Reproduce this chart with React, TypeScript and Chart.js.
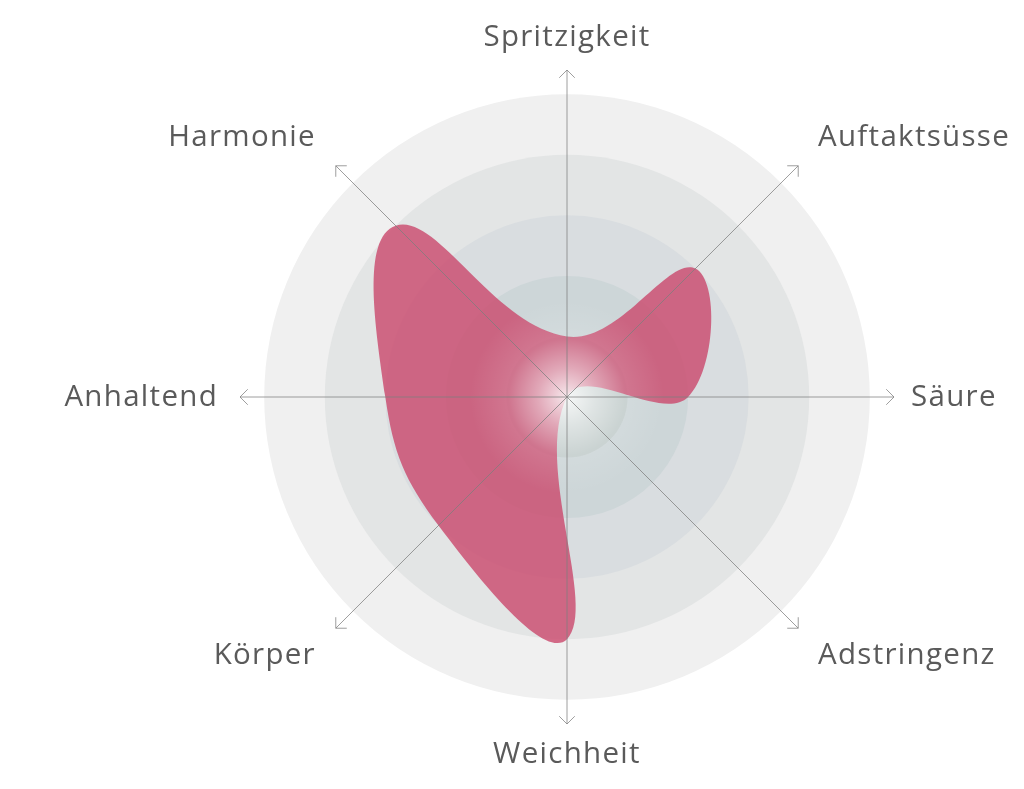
import React, { useEffect, useRef } from 'react';
import { Chart, registerables } from 'chart.js';

Chart.register(...registerables);

// Achsen im Uhrzeigersinn, oben beginnend
const kategorien = ['Spritzigkeit', 'Auftaktsüsse', 'Säure', 'Adstringenz', 'Weichheit', 'Körper', 'Anhaltend', 'Harmonie'];
const werte = [1, 3, 2, 0, 4, 3, 3, 4];
const ringStufen = [5, 4, 3, 2, 1];
const skalaMax = 5.4;

const ringFarben = ['#f0f0f0', '#e3e5e5', '#d9dde0', '#cdd6d8', '#c3cdcc'];
const textFarbe = '#5a5a5a';

const hintergrundPlugin = {
  id: 'weinHintergrund',
  beforeDatasetsDraw(chart: any) {
    const s = chart.scales.r;
    const ctx = chart.ctx;
    ctx.save();
    ringStufen.forEach((v, i) => {
      ctx.beginPath();
      ctx.arc(s.xCenter, s.yCenter, s.getDistanceFromCenterForValue(v), 0, Math.PI * 2);
      ctx.fillStyle = ringFarben[i];
      ctx.fill();
    });
    ctx.restore();
  },
  afterDatasetsDraw(chart: any) {
    const s = chart.scales.r;
    const ctx = chart.ctx;
    const xc = s.xCenter;
    const yc = s.yCenter;
    const R = s.drawingArea;
    ctx.save();

    // weisser Schein in der Mitte
    const glowR = s.getDistanceFromCenterForValue(1.6);
    const g = ctx.createRadialGradient(xc, yc, 0, xc, yc, glowR);
    g.addColorStop(0, 'rgba(255,255,255,0.85)');
    g.addColorStop(0.3, 'rgba(255,255,255,0.45)');
    g.addColorStop(0.6, 'rgba(255,255,255,0.12)');
    g.addColorStop(1, 'rgba(255,255,255,0)');
    ctx.fillStyle = g;
    ctx.beginPath();
    ctx.arc(xc, yc, glowR, 0, Math.PI * 2);
    ctx.fill();

    // Achsen mit Pfeilspitzen
    ctx.strokeStyle = 'rgba(125,125,125,0.75)';
    ctx.lineWidth = 1;
    kategorien.forEach((_, i) => {
      const p = s.getPointPosition(i, R);
      const a = Math.atan2(p.y - yc, p.x - xc);
      ctx.beginPath();
      ctx.moveTo(xc, yc);
      ctx.lineTo(p.x, p.y);
      ctx.moveTo(p.x + 11 * Math.cos(a + Math.PI * 0.75), p.y + 11 * Math.sin(a + Math.PI * 0.75));
      ctx.lineTo(p.x, p.y);
      ctx.lineTo(p.x + 11 * Math.cos(a - Math.PI * 0.75), p.y + 11 * Math.sin(a - Math.PI * 0.75));
      ctx.stroke();
    });

    // Beschriftungen
    ctx.font = '29.5px "Open Sans"';
    (ctx as any).letterSpacing = '1.3px';
    ctx.fillStyle = textFarbe;
    ctx.textBaseline = 'alphabetic';
    const capH = ctx.measureText('H').actualBoundingBoxAscent;
    kategorien.forEach((label, i) => {
      const grad = (i * 360) / kategorien.length;
      let p;
      let y;
      if (grad === 0) {
        p = s.getPointPosition(i, R + 24);
        ctx.textAlign = 'center';
        y = p.y;
      } else if (grad === 180) {
        p = s.getPointPosition(i, R + 18);
        ctx.textAlign = 'center';
        y = p.y + capH;
      } else if (grad === 90 || grad === 270) {
        p = s.getPointPosition(i, R + (grad === 90 ? 17 : 22));
        ctx.textAlign = grad === 90 ? 'left' : 'right';
        y = p.y + capH / 2 - 2;
      } else {
        p = s.getPointPosition(i, R + 28);
        ctx.textAlign = grad < 180 ? 'left' : 'right';
        y = grad === 45 || grad === 315 ? p.y : p.y - 5 + capH;
      }
      ctx.fillText(label, p.x, y);
    });
    ctx.restore();
  },
};

const App: React.FC = () => {
  const canvasRef = useRef<HTMLCanvasElement>(null);
  const chartRef = useRef<Chart | null>(null);

  useEffect(() => {
    if (!canvasRef.current) return;
    const ctx = canvasRef.current.getContext('2d');
    if (!ctx) return;

    chartRef.current = new Chart(ctx, {
      type: 'radar',
      data: {
        labels: kategorien,
        datasets: [{
          label: 'Profil',
          data: werte,
          backgroundColor: 'rgba(203, 75, 110, 0.82)',
          borderWidth: 0,
          fill: true,
          tension: 0.42,
          pointRadius: 0,
          pointHoverRadius: 0,
        }]
      },
      options: {
        responsive: true,
        maintainAspectRatio: false,
        animation: false,
        layout: {
          padding: { left: 240, top: 70, right: 130, bottom: 65 }
        },
        plugins: {
          legend: { display: false },
          tooltip: { enabled: false },
        },
        scales: {
          r: {
            min: 0,
            max: skalaMax,
            ticks: { display: false },
            grid: { display: false },
            angleLines: { display: false },
            pointLabels: { display: false },
          }
        }
      },
      plugins: [hintergrundPlugin],
    });

    return () => {
      if (chartRef.current) {
        chartRef.current.destroy();
        chartRef.current = null;
      }
    };
  }, []);

  return (
    <div style={{ position: 'fixed', left: 0, top: 0, width: '1024px', height: '789px', background: '#fff' }}>
      <canvas ref={canvasRef}></canvas>
    </div>
  );
};

export default App;
